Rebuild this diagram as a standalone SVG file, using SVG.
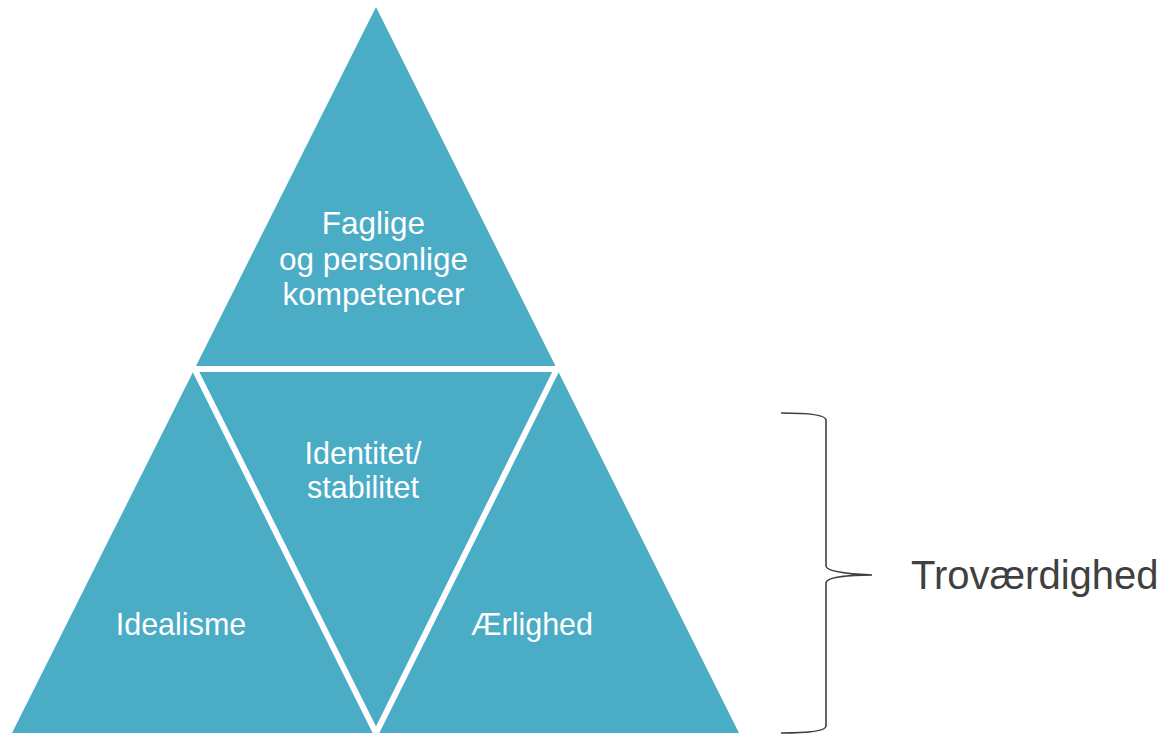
<svg xmlns="http://www.w3.org/2000/svg" width="1162" height="735" viewBox="0 0 1162 735">
  <style>
    .tri { fill: #4BACC6; }
    .sep { stroke: #FFFFFF; stroke-width: 6; fill: none; }
    .lbl { font-family: "Liberation Sans", Arial, sans-serif; fill: #FFFFFF; text-anchor: middle; }
    .side { font-family: "Liberation Sans", Arial, sans-serif; fill: #404040; font-size: 40px; }
    .brace { stroke: #404040; stroke-width: 1.6; fill: none; }
  </style>
  <rect width="1162" height="735" fill="#FFFFFF"/>
  <g id="pyramid">
    <polygon class="tri" points="376,7 12,733 739,733"/>
  </g>
  <g id="connectors">
    <line class="sep" x1="150" y1="369" x2="600" y2="369"/>
    <polyline class="sep" points="194.5,369 376,733 557,369"/>
  </g>
  <g id="node-top">
    <text class="lbl" font-size="31.5" x="373.5" y="234">Faglige</text>
    <text class="lbl" font-size="31.5" x="373.5" y="269.5">og personlige</text>
    <text class="lbl" font-size="31.5" x="373.5" y="304.5">kompetencer</text>
  </g>
  <g id="node-middle">
    <text class="lbl" font-size="30.5" x="363" y="464">Identitet/</text>
    <text class="lbl" font-size="30.5" x="363" y="498">stabilitet</text>
  </g>
  <g id="node-left">
    <text class="lbl" font-size="30.5" x="181" y="635">Idealisme</text>
  </g>
  <g id="node-right">
    <text class="lbl" font-size="30.5" x="532" y="635">Ærlighed</text>
  </g>
  <g id="brace">
    <path class="brace" d="M781,413 C800,413 826,414 826,420 L826,566 C826,572 850,574 872,575 C850,575 826,577 826,583 L826,726 C826,732 800,733 781,733"/>
    <text class="side" x="911" y="589">Troværdighed</text>
  </g>
</svg>
